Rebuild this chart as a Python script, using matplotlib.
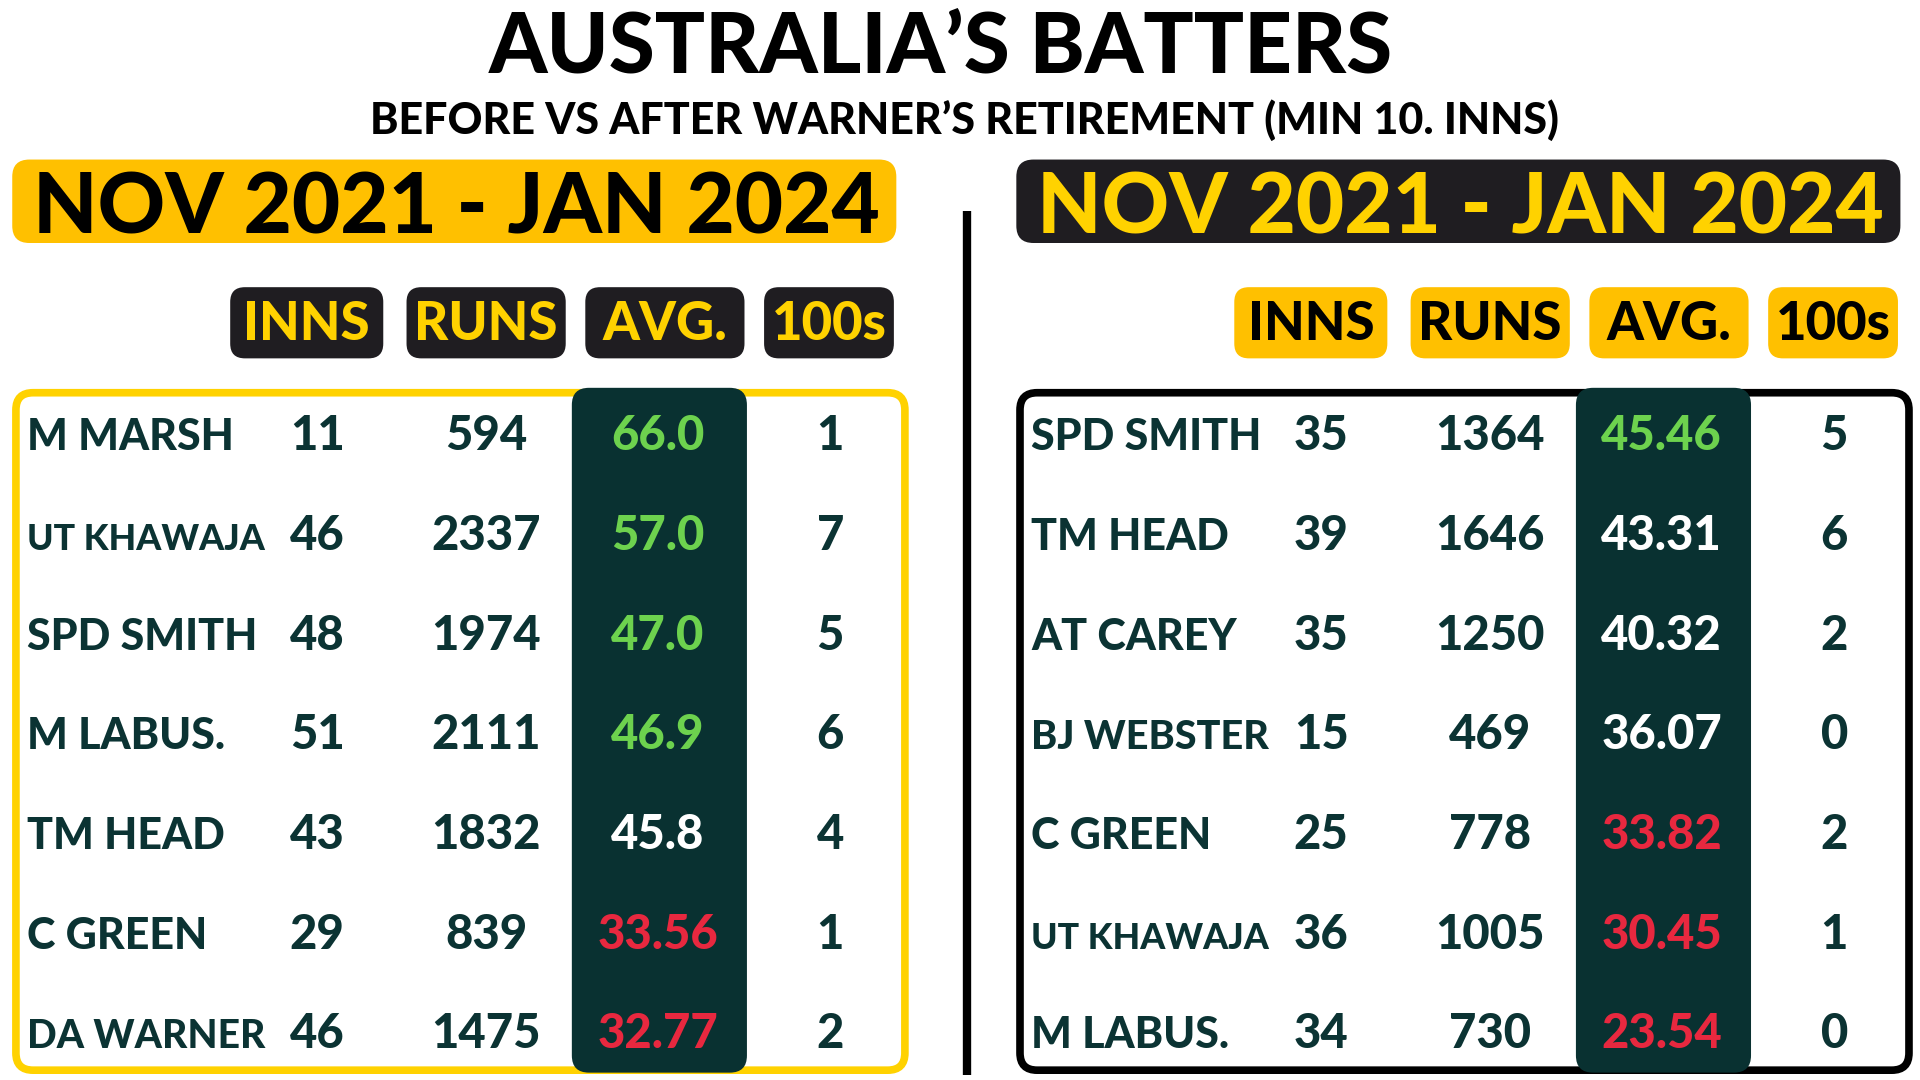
import numpy as np
import matplotlib.pyplot as plt
from matplotlib.patches import FancyBboxPatch

plt.rcParams['font.family'] = ['Lato', 'DejaVu Sans']

title = 'AUSTRALIA’S BATTERS'
subtitle = 'BEFORE VS AFTER WARNER’S RETIREMENT (MIN 10. INNS)'
period_left = 'NOV 2021 - JAN 2024'
period_right = 'NOV 2021 - JAN 2024'
columns = ['INNS', 'RUNS', 'AVG.', '100s']

before_names = ['M MARSH', 'UT KHAWAJA', 'SPD SMITH', 'M LABUS.', 'TM HEAD', 'C GREEN', 'DA WARNER']
before_inns = [11, 46, 48, 51, 43, 29, 46]
before_runs = [594, 2337, 1974, 2111, 1832, 839, 1475]
before_avg = ['66.0', '57.0', '47.0', '46.9', '45.8', '33.56', '32.77']
before_100s = [1, 7, 5, 6, 4, 1, 2]
before_tag = ['up', 'up', 'up', 'up', 'mid', 'down', 'down']

after_names = ['SPD SMITH', 'TM HEAD', 'AT CAREY', 'BJ WEBSTER', 'C GREEN', 'UT KHAWAJA', 'M LABUS.']
after_inns = [35, 39, 35, 15, 25, 36, 34]
after_runs = [1364, 1646, 1250, 469, 778, 1005, 730]
after_avg = ['45.46', '43.31', '40.32', '36.07', '33.82', '30.45', '23.54']
after_100s = [5, 6, 2, 0, 2, 1, 0]
after_tag = ['up', 'mid', 'mid', 'mid', 'down', 'down', 'down']

YELLOW = '#FFC000'
LEMON = '#FFD200'
DARK = '#1F1D21'
TEAL = '#093131'
INK = '#0B3333'
tag_col = {'up': '#6DD24E', 'mid': 'white', 'down': '#E8283F'}

fig = plt.figure(figsize=(19.2, 10.8), dpi=100)
ax = fig.add_axes([0, 0, 1, 1])
ax.set_xlim(0, 1568)
ax.set_ylim(880, 0)
ax.axis('off')


def rbox(x, y, w, h, r, fc, ec='none', lw=0, z=1):
    p = FancyBboxPatch((x, y), w, h, boxstyle=f'round,pad=0,rounding_size={r}',
                       fc=fc, ec=ec, lw=lw, zorder=z)
    ax.add_patch(p)


ax.text(768, 59, title, ha='center', va='baseline', fontsize=60, fontweight='black', color='black')
ax.text(788, 109, subtitle, ha='center', va='baseline', fontsize=31, fontweight='black', color='black')

# divider
ax.plot([790, 790], [172, 876], color='black', lw=6, solid_capstyle='butt')

renderer = fig.canvas.get_renderer()


def panel(dx, head_fc, head_tc, pill_fc, pill_tc, border, names, inns, runs, avg, hund, tags):
    rbox(10 + dx, 130, 722, 68, 14, head_fc)
    ax.text(373 + dx, 190, period_left if dx == 0 else period_right, ha='center', va='baseline',
            fontsize=60, fontweight='black', color=head_tc)

    pill_x = [188, 332, 478, 624]
    pill_w = [125, 130, 130, 106]
    for name, px, pw in zip(columns, pill_x, pill_w):
        rbox(px + dx, 234, pw, 58, 12, pill_fc)
        ax.text(px + pw / 2 + dx, 277, name, ha='center', va='baseline',
                fontsize=38, fontweight='black', color=pill_tc)

    rbox(13 + dx, 320, 726, 552, 14, 'white', ec=border, lw=5.5, z=2)
    rbox(467 + dx, 316, 143, 558, 14, TEAL, z=3)

    col_x = [259, 397, 537, 678]
    for i in range(len(names)):
        yb = 353 + i * 81.2 + 14
        t = ax.text(22 + dx, yb, names[i], ha='left', va='baseline', fontsize=31,
                    fontweight='black', color=INK, zorder=4)
        w = t.get_window_extent(renderer).width / 1920 * 1568
        if w > 194:
            t.set_fontsize(31 * 194 / w)
        vals = [str(inns[i]), str(runs[i]), avg[i], str(hund[i])]
        cols = [INK, INK, tag_col[tags[i]], INK]
        for v, cx, c in zip(vals, col_x, cols):
            ax.text(cx + dx, yb, v, ha='center', va='baseline', fontsize=34,
                    fontweight='black', color=c, zorder=4)


panel(0, YELLOW, 'black', DARK, LEMON, LEMON,
      before_names, before_inns, before_runs, before_avg, before_100s, before_tag)
panel(820, DARK, LEMON, YELLOW, 'black', 'black',
      after_names, after_inns, after_runs, after_avg, after_100s, after_tag)

fig.savefig('out.png', dpi=100, facecolor='white')
